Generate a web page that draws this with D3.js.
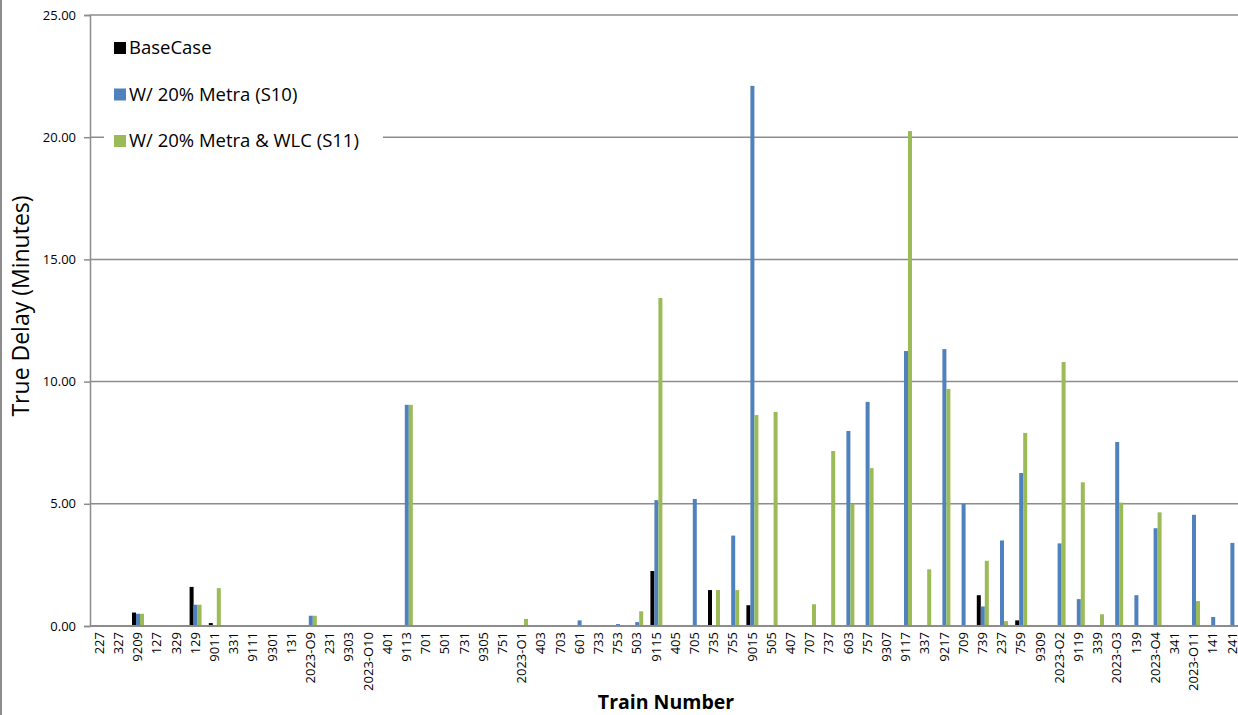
<!DOCTYPE html>
<html>
<head>
<meta charset="utf-8">
<script src="https://cdn.jsdelivr.net/npm/d3@7"></script>
<style>
  html, body { margin: 0; padding: 0; background: #fff; }
  svg { display: block; font-family: "Open Sans", "Noto Sans", sans-serif; }
</style>
</head>
<body>
<svg id="chart" width="1238" height="715"></svg>
<script>
// Train numbers along the x axis
const trains = ["227","327","9209","127","329","129","9011","331","9111","9301","131","2023-O9","231","9303","2023-O10","401","9113","701","501","731","9305","751","2023-O1","403","703","601","733","753","503","9115","405","705","735","755","9015","505","407","707","737","603","757","9307","9117","337","9217","709","739","237","759","9309","2023-O2","9119","339","2023-O3","139","2023-O4","341","2023-O11","141","241"];

// Delay (minutes) per train for each scenario
const baseCase = [0,0,0.55,0,0,1.6,0.12,0,0,0,0,0,0,0,0,0,0,0,0,0,0,0,0,0,0,0,0,0,0,2.25,0,0,1.47,0,0.85,0,0,0,0,0,0,0,0,0,0,0,1.26,0,0.23,0,0,0,0,0,0,0,0,0,0,0];
const metraS10 = [0,0,0.5,0,0,0.87,0,0,0,0,0,0.42,0,0,0,0,9.05,0,0,0,0,0,0.03,0,0,0.23,0,0.08,0.16,5.15,0,5.2,0,3.7,22.1,0,0,0,0,7.98,9.17,0,11.25,0,11.33,5.0,0.8,3.5,6.26,0,3.38,1.1,0,7.53,1.26,4.0,0,4.55,0.37,3.4];
const metraWlcS11 = [0,0,0.5,0,0,0.87,1.55,0,0,0,0,0.42,0,0,0,0,9.05,0,0,0,0,0,0.29,0,0,0,0,0,0.6,13.42,0,0,1.47,1.47,8.63,8.76,0,0.89,7.16,5.0,6.46,0,20.25,2.32,9.7,0,2.67,0.2,7.9,0,10.8,5.88,0.48,5.05,0,4.65,0,1.02,0,0];

const seriesNames = ["BaseCase","W/ 20% Metra (S10)","W/ 20% Metra & WLC (S11)"];
const seriesColors = ["#000000","#4f81bd","#9bbb59"];
const yTicks = [0,5,10,15,20,25];

const series = [baseCase, metraS10, metraWlcS11];
const rows = trains.map((t, i) => ({ train: t, values: series.map(s => s[i]) }));

const svg = d3.select("#chart");
const plotLeft = 90, plotTop = 15, plotBottom = 626, step = 19.2;
const plotRight = plotLeft + step * trains.length;

const x = d3.scaleBand().domain(trains).range([plotLeft, plotRight]).paddingInner(0.375).paddingOuter(0.1875);
const xs = d3.scaleBand().domain(d3.range(3)).range([0, x.bandwidth()]);
const y = d3.scaleLinear().domain([0, 25]).range([plotBottom, plotTop]);

// left frame border
svg.append("line").attr("x1", 1).attr("x2", 1).attr("y1", 0).attr("y2", 715)
  .attr("stroke", "#8c8c8c").attr("stroke-width", 2);

// horizontal gridlines
svg.append("g").selectAll("line").data(yTicks.filter(d => d > 0)).join("line")
  .attr("x1", plotLeft).attr("x2", 1238)
  .attr("y1", d => y(d)).attr("y2", d => y(d))
  .attr("stroke", "#8c8c8c").attr("stroke-width", 1.5);

// y axis
const yAxis = svg.append("g").attr("transform", `translate(${plotLeft},0)`)
  .call(d3.axisLeft(y).tickValues(yTicks).tickFormat(d3.format(".2f")).tickSize(6).tickPadding(8));
yAxis.select(".domain").attr("stroke", "#8c8c8c").attr("stroke-width", 1.5);
yAxis.selectAll(".tick line").attr("stroke", "#8c8c8c").attr("stroke-width", 1.5);
yAxis.selectAll(".tick text").attr("font-size", 13).attr("fill", "#000")
  .attr("font-family", "'Open Sans', sans-serif");

// bars
const groups = svg.append("g").selectAll("g").data(rows).join("g")
  .attr("transform", d => `translate(${x(d.train)},0)`);
groups.selectAll("rect").data(d => d.values.map((v, k) => ({ v, k }))).join("rect")
  .attr("x", d => xs(d.k))
  .attr("width", xs.bandwidth())
  .attr("y", d => y(d.v))
  .attr("height", d => y(0) - y(d.v))
  .attr("fill", d => seriesColors[d.k]);

// x axis
const xAxis = svg.append("g").attr("transform", `translate(0,${plotBottom})`)
  .call(d3.axisBottom(x).tickSize(0).tickPadding(6));
xAxis.select(".domain").attr("stroke", "#8c8c8c").attr("stroke-width", 2)
  .attr("d", `M${plotLeft},0H1238`);
xAxis.selectAll(".tick text")
  .attr("transform", "rotate(-90)")
  .attr("text-anchor", "end")
  .attr("dy", "0.33em")
  .attr("x", -6).attr("y", 0)
  .attr("font-size", 13).attr("fill", "#000")
  .attr("font-family", "'Open Sans', sans-serif");

// legend
const legend = svg.append("g");
legend.append("rect").attr("x", 104).attr("y", 28).attr("width", 279).attr("height", 136).attr("fill", "#fff");
const items = legend.selectAll("g").data(seriesNames).join("g")
  .attr("transform", (d, i) => `translate(114,${48 + i * 46.5})`);
items.append("rect").attr("x", 0).attr("y", -6).attr("width", 12).attr("height", 12)
  .attr("fill", (d, i) => seriesColors[i]);
items.append("text").attr("x", 15).attr("y", 0).attr("dy", "0.35em")
  .attr("font-size", 18.5).attr("fill", "#000").text(d => d);

// axis titles
svg.append("text").attr("transform", "translate(29,306) rotate(-90)")
  .attr("text-anchor", "middle").attr("font-size", 23).attr("fill", "#000")
  .text("True Delay (Minutes)");
svg.append("text").attr("x", 666).attr("y", 709)
  .attr("text-anchor", "middle").attr("font-size", 19.5).attr("font-weight", "bold").attr("fill", "#000")
  .text("Train Number");
</script>
</body>
</html>
